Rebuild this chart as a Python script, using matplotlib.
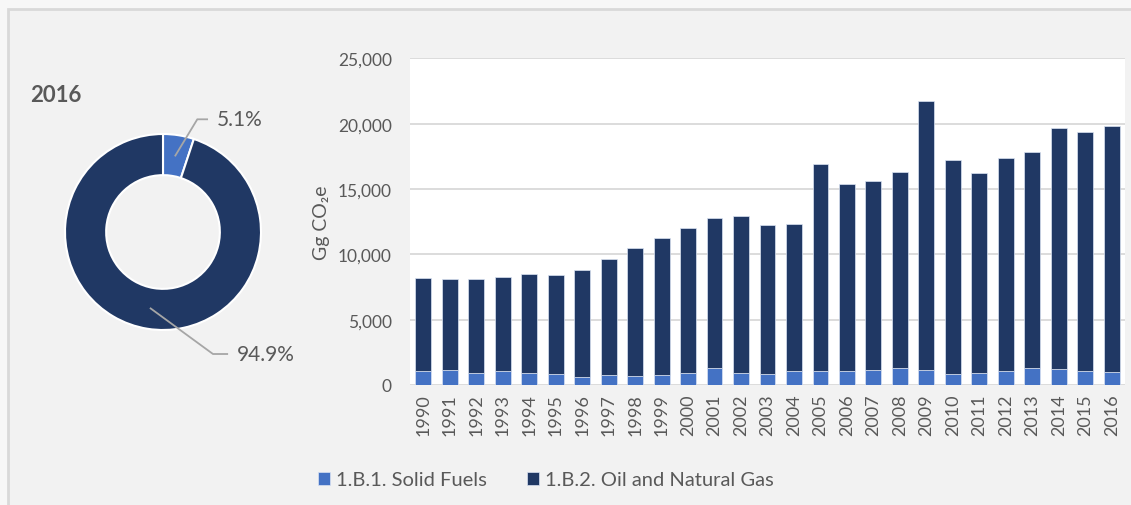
import numpy as np
import matplotlib
matplotlib.use("Agg")
import matplotlib.pyplot as plt
from matplotlib.patches import Rectangle

plt.rcParams['font.family'] = ['Lato', 'DejaVu Sans']

years = [str(y) for y in range(1990, 2017)]
solid_fuels = [1046, 1122, 944, 1046, 944, 842, 587, 765, 663, 765, 944, 1300, 944, 842,
               1046, 1046, 1046, 1122, 1300, 1122, 842, 944, 1046, 1300, 1224, 1046, 1010]
totals = [8160, 8084, 8084, 8237, 8517, 8440, 8798, 9614, 10506, 11220, 12036, 12750, 12954, 12215,
          12317, 16932, 15402, 15581, 16295, 21700, 17187, 16193, 17391, 17825, 19635, 19380, 19814]
oil_gas = [t - s for t, s in zip(totals, solid_fuels)]
series_names = ["1.B.1. Solid Fuels", "1.B.2. Oil and Natural Gas"]
pie_shares = [5.1, 94.9]
pie_labels = ["5.1%", "94.9%"]
pie_year = "2016"
y_ticks = [0, 5000, 10000, 15000, 20000, 25000]

C_SOLID = '#4472c4'
C_OIL = '#203864'
TXT = '#595959'
GRID = '#d9d9d9'

W, H = 1131, 506
fig = plt.figure(figsize=(W / 100, H / 100), dpi=100, facecolor='#f7f7f7')

# background panel with top/left border
fig.patches.append(Rectangle((8 / W, -0.2), 1.2, 1.2 - 10 / H, transform=fig.transFigure,
                             facecolor='#f2f2f2', edgecolor='#d9d9d9', linewidth=2, zorder=-10))

def ax_px(x0, y0, x1, y1):
    return fig.add_axes([x0 / W, 1 - y1 / H, (x1 - x0) / W, (y1 - y0) / H])

# Bar chart
ax = ax_px(410, 59.3, 1125, 386)
ax.set_facecolor('white')
x = np.arange(len(years))
ax.bar(x, solid_fuels, width=0.6, color=C_SOLID, edgecolor='#dae3f3', linewidth=0.5, zorder=3,
       label=series_names[0])
ax.bar(x, oil_gas, bottom=solid_fuels, width=0.6, color=C_OIL, edgecolor='#dae3f3', linewidth=0.5,
       zorder=3, label=series_names[1])
ax.set_xlim(-0.5, len(years) - 0.5)
ax.set_ylim(0, 25000)
ax.set_yticks(y_ticks)
ax.set_yticklabels([f"{v:,}" for v in y_ticks], fontsize=12.5)
ax.set_xticks(x)
ax.set_xticklabels(years, rotation=90, fontsize=13)
ax.tick_params(axis='both', length=0, colors=TXT)
ax.tick_params(axis='y', pad=13)
ax.tick_params(axis='x', pad=6)
ax.grid(axis='y', color=GRID, linewidth=1.3, zorder=0)
for s in ax.spines.values():
    s.set_visible(False)
ax.set_ylabel("Gg CO₂e", color=TXT, fontsize=14, labelpad=6)

# Donut
axp = ax_px(163 - 98, 233 - 98, 163 + 98, 233 + 98)
wedges, _ = axp.pie(pie_shares, colors=[C_SOLID, C_OIL], startangle=90, counterclock=False,
                    radius=1, wedgeprops=dict(width=0.42, edgecolor='white', linewidth=1.5))
axp.set_xlim(-1, 1)
axp.set_ylim(-1, 1)
axp.set_aspect('equal')
axp.axis('off')

cum = np.cumsum([0] + pie_shares[:-1])
text_pos = [(0.55, 1.15), (0.755, -1.245)]
elbow = [(0.35, 1.15), (0.51, -1.245)]
for i, (share, start) in enumerate(zip(pie_shares, cum)):
    ang = np.deg2rad(90 - (start + share / 2) * 3.6)
    p0 = (0.79 * np.cos(ang), 0.79 * np.sin(ang))
    ex, ey = elbow[i]
    tx, ty = text_pos[i]
    axp.plot([p0[0], ex, tx - 0.1], [p0[1], ey, ty], color='#a6a6a6', lw=1.3, clip_on=False)
    axp.text(tx, ty, pie_labels[i], color=TXT, fontsize=15, va='center', ha='left', clip_on=False)

fig.text(30 / W, 1 - 96 / H, pie_year, color=TXT, fontsize=16, fontweight='bold', va='center', ha='left')

handles, labels = ax.get_legend_handles_labels()
leg = fig.legend(handles, labels, loc='center', bbox_to_anchor=(546 / W, 1 - 481 / H), ncol=2,
                 frameon=False, fontsize=14.5, handlelength=0.6, handleheight=0.6, handletextpad=0.3,
                 columnspacing=2.0)
for t in leg.get_texts():
    t.set_color(TXT)

fig.savefig('out.png', dpi=100, facecolor=fig.get_facecolor())
